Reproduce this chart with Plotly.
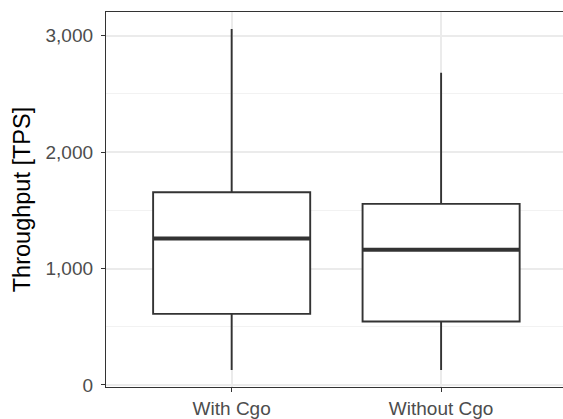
import plotly.graph_objects as go

# Throughput summary statistics per build (transactions per second)
groups = ["With Cgo", "Without Cgo"]
lower_whisker = [128, 128]
q1 = [610, 545]
median = [1257, 1161]
q3 = [1655, 1555]
upper_whisker = [3058, 2683]

y_ticks = [0, 1000, 2000, 3000]

positions = list(range(len(groups)))
box_width = 0.75
ink = "#333333"
grid = "#EBEBEB"
font_family = "Liberation Sans, Arial, sans-serif"

fig = go.Figure()

fig.add_trace(go.Box(
    x=positions,
    q1=q1,
    median=median,
    q3=q3,
    lowerfence=lower_whisker,
    upperfence=upper_whisker,
    width=box_width,
    whiskerwidth=0,
    fillcolor="white",
    line=dict(color=ink, width=1.9),
    boxpoints=False,
    showlegend=False,
    hoverinfo="skip",
))

# Thick median bars drawn over each box
for p, m in zip(positions, median):
    fig.add_trace(go.Scatter(
        x=[p - box_width / 2, p + box_width / 2],
        y=[m, m],
        mode="lines",
        line=dict(color=ink, width=4),
        showlegend=False,
        hoverinfo="skip",
    ))

# ggplot-style 5% padding on the y axis
span = max(upper_whisker) - min(lower_whisker)
y_range = [min(lower_whisker) - 0.05 * span, max(upper_whisker) + 0.05 * span]

fig.update_layout(
    width=563,
    height=419,
    margin=dict(l=106, r=0, t=12, b=28),
    paper_bgcolor="white",
    plot_bgcolor="white",
    font=dict(family=font_family, color="#4D4D4D"),
    xaxis=dict(
        range=[-0.6, 1.582],
        tickmode="array",
        tickvals=positions,
        ticktext=groups,
        tickfont=dict(size=19, color="#4D4D4D"),
        ticks="outside",
        ticklen=4,
        tickcolor=ink,
        tickwidth=1.2,
        showline=True,
        linecolor=ink,
        linewidth=1.3,
        mirror=True,
        showgrid=True,
        gridcolor=grid,
        gridwidth=1.6,
        zeroline=False,
    ),
    yaxis=dict(
        range=y_range,
        tickmode="array",
        tickvals=y_ticks,
        tickformat=",",
        tickfont=dict(size=19, color="#4D4D4D"),
        ticks="outside",
        ticklen=4,
        tickcolor=ink,
        tickwidth=1.2,
        ticklabelstandoff=4,
        showline=True,
        linecolor=ink,
        linewidth=1.3,
        mirror=False,
        showgrid=True,
        gridcolor=grid,
        gridwidth=1.6,
        zeroline=False,
        minor=dict(dtick=500, tick0=0, showgrid=True, gridcolor="#F2F2F2",
                   gridwidth=0.9, ticks=""),
        title=dict(text="Throughput [TPS]", font=dict(size=23.5, color="black"),
                   standoff=8),
    ),
)

fig.write_html("out.html")
